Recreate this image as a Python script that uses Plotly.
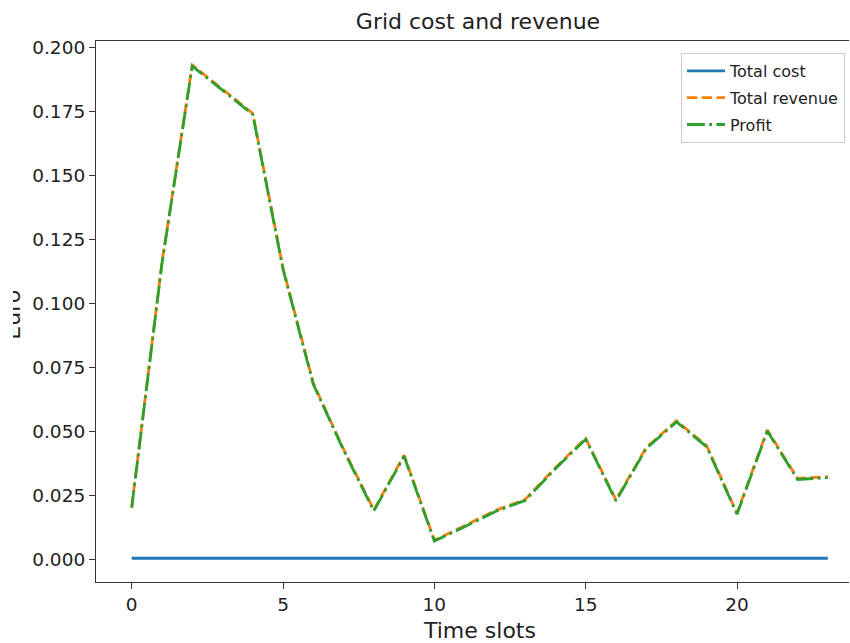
import plotly.graph_objects as go

# Hourly time slots and the grid money flows (Euro)
time_slots = list(range(24))
total_cost = [0.0004, 0.0004, 0.0004, 0.0004, 0.0004, 0.0004, 0.0004, 0.0004,
              0.0004, 0.0004, 0.0004, 0.0004, 0.0004, 0.0004, 0.0004, 0.0004,
              0.0004, 0.0004, 0.0004, 0.0004, 0.0004, 0.0004, 0.0004, 0.0004]
total_revenue = [0.0205, 0.1160, 0.1931, 0.1836, 0.1742, 0.1137, 0.0688, 0.0430,
                 0.0193, 0.0407, 0.0075, 0.0131, 0.0190, 0.0234, 0.0358, 0.0473,
                 0.0232, 0.0437, 0.0541, 0.0443, 0.0180, 0.0505, 0.0316, 0.0323]
profit = [0.0201, 0.1156, 0.1927, 0.1832, 0.1738, 0.1133, 0.0684, 0.0426,
          0.0189, 0.0403, 0.0071, 0.0127, 0.0186, 0.0230, 0.0354, 0.0469,
          0.0228, 0.0433, 0.0537, 0.0439, 0.0176, 0.0501, 0.0312, 0.0319]

W, H = 850, 643
ML, MR, MT, MB = 96, 1, 41, 61
PW, PH = W - ML - MR, H - MT - MB

FONT = "DejaVu Sans"
INK = "#222222"
SPINE = "#333333"


def px_x(px):
    return (px - ML) / PW


def px_y(py):
    return (H - MB - py) / PH


fig = go.Figure()
fig.add_trace(go.Scatter(x=time_slots, y=total_cost, mode="lines", name="Total cost",
                         legendgroup="a",
                         line=dict(color="#1f77b4", width=2.8)))
fig.add_trace(go.Scatter(x=time_slots, y=total_revenue, mode="lines", name="Total revenue",
                         legendgroup="b",
                         line=dict(color="#ff7f0e", width=2.8, dash="10.3px,4.4px")))
fig.add_trace(go.Scatter(x=time_slots, y=profit, mode="lines", name="Profit",
                         legendgroup="c",
                         line=dict(color="#2ca02c", width=2.8,
                                   dash="17.8px,4.4px,2.8px,4.4px")))

axis_common = dict(
    showgrid=False, zeroline=False, showline=True, linecolor=SPINE, linewidth=1.2,
    ticks="outside", ticklen=6, tickwidth=1.2, tickcolor=SPINE,
    tickfont=dict(family=FONT, size=18.5, color=INK),
)

fig.update_xaxes(range=[-1.18, 23.70], tick0=0, dtick=5, mirror=True, **axis_common)
fig.update_yaxes(range=[-0.00887, 0.2025], tick0=0, dtick=0.025, tickformat=".3f",
                 **axis_common)

fig.update_layout(
    width=W, height=H,
    margin=dict(l=ML, r=MR, t=MT, b=MB, pad=0),
    paper_bgcolor="white", plot_bgcolor="white",
    showlegend=True,
    title=dict(text="Grid cost and revenue", x=px_x(478), xref="paper",
               y=1 - 21.3 / H, yref="container", xanchor="center", yanchor="middle",
               font=dict(family=FONT, size=22, color=INK)),
    legend=dict(x=px_x(845), y=px_y(53), xanchor="right", yanchor="top",
                bgcolor="rgba(255,255,255,0.8)", bordercolor="#cccccc", borderwidth=1,
                font=dict(family=FONT, size=16, color=INK),
                itemwidth=38,
                traceorder="grouped", tracegroupgap=3),
    annotations=[
        dict(text="Time slots", xref="paper", yref="paper", x=px_x(479), y=px_y(630.6),
             xanchor="center", yanchor="middle", showarrow=False,
             font=dict(family=FONT, size=22, color=INK)),
        dict(text="Euro", xref="paper", yref="paper", x=px_x(11.7), y=px_y(315),
             xanchor="center", yanchor="middle", textangle=-90, showarrow=False,
             font=dict(family=FONT, size=22, color=INK)),
        # page edge strip over the left part of the axis label
        dict(text=" ", xref="paper", yref="paper", x=px_x(0), y=px_y(315),
             xanchor="left", yanchor="middle", showarrow=False, width=12.7, height=80,
             bgcolor="white", borderpad=0, borderwidth=0),
    ],
)

fig.write_html("out.html")
